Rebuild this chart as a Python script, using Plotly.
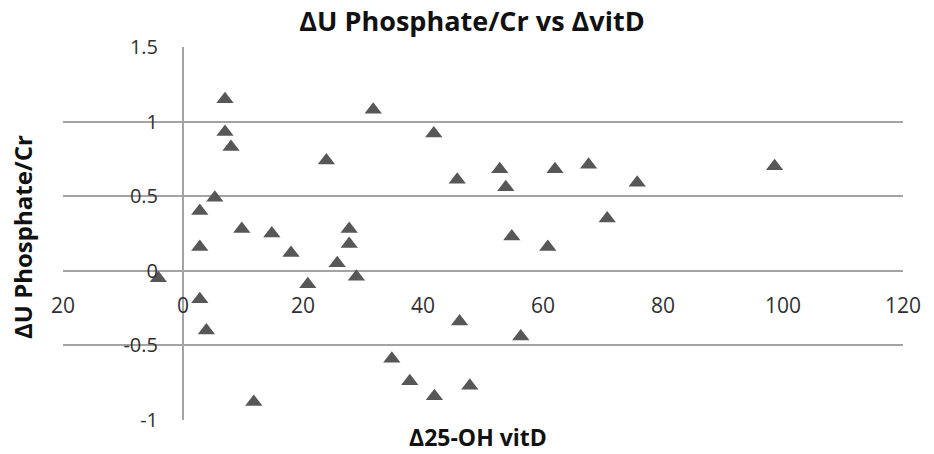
import plotly.graph_objects as go

# Δ25-OH vitD (x) and ΔU Phosphate/Cr (y)
delta_vitd = [-4.1, 2.8, 2.8, 2.8, 3.9, 5.3, 7.0, 7.0, 8.0, 9.8, 11.8, 14.8,
              18.0, 20.8, 23.9, 25.7, 27.7, 27.7, 28.9, 31.7, 34.8, 37.8,
              41.8, 41.9, 45.7, 46.1, 47.8, 52.8, 53.8, 54.8, 56.3, 60.8,
              62.0, 67.6, 70.7, 75.7, 98.6]
delta_uphos = [-0.05, 0.40, 0.16, -0.19, -0.40, 0.49, 1.15, 0.93, 0.83, 0.28,
               -0.88, 0.25, 0.12, -0.09, 0.74, 0.05, 0.28, 0.18, -0.04, 1.08,
               -0.59, -0.74, 0.92, -0.84, 0.61, -0.34, -0.77, 0.68, 0.56, 0.23,
               -0.44, 0.16, 0.68, 0.71, 0.35, 0.59, 0.70]

x_tickvals = [-20, 0, 20, 40, 60, 80, 100, 120]
x_ticktext = ["20", "0", "20", "40", "60", "80", "100", "120"]
y_tickvals = [-1, -0.5, 0, 0.5, 1, 1.5]
y_ticktext = ["-1", "-0.5", "0", "0.5", "1", "1.5"]

title_text = "ΔU Phosphate/Cr vs ΔvitD"
x_title = "Δ25-OH vitD"
y_title = "ΔU Phosphate/Cr"

FONT = "Open Sans"
GRID = "#a3a3a3"
W, H = 934, 454
ML, MR, MT, MB = 63, 31, 47, 34
PW, PH = W - ML - MR, H - MT - MB

fig = go.Figure()
fig.add_trace(go.Scatter(
    x=delta_vitd, y=delta_uphos, mode="markers",
    marker=dict(symbol="triangle-up", size=15, color="#575757",
                line=dict(width=0)),
    showlegend=False,
))

fig.update_layout(
    width=W, height=H, autosize=False,
    margin=dict(l=ML, r=MR, t=MT, b=MB, autoexpand=False),
    paper_bgcolor="white", plot_bgcolor="white",
    font=dict(family=FONT, color="#303030", size=20),
    title=dict(text="<b>" + title_text + "</b>", automargin=False,
               x=472 / W, xanchor="center", y=1 - 22 / H, yanchor="middle",
               font=dict(family=FONT, size=27, color="#111111")),
    xaxis=dict(range=[-20, 120], tickvals=x_tickvals, ticktext=x_ticktext,
               showgrid=False, zeroline=True, zerolinecolor=GRID,
               zerolinewidth=1.5, showline=False, ticks="",
               automargin=False, ticklabelstandoff=-129,
               tickfont=dict(family=FONT, size=21, color="#303030")),
    yaxis=dict(range=[-1, 1.5], tickvals=y_tickvals, ticktext=y_ticktext,
               showgrid=True, gridcolor=GRID, gridwidth=1.5,
               zeroline=False, showline=False, ticks="",
               automargin=False, ticklabelstandoff=-96,
               tickfont=dict(family=FONT, size=20, color="#303030")),
    annotations=[
        dict(text="<b>" + x_title + "</b>", xref="paper", yref="paper",
             x=(478 - ML) / PW, y=(H - MB - 437) / PH,
             xanchor="center", yanchor="middle", showarrow=False,
             font=dict(family=FONT, size=23, color="#111111")),
        dict(text="<b>" + y_title + "</b>", xref="paper", yref="paper",
             x=(22 - ML) / PW, y=(H - MB - 237) / PH, textangle=-90,
             xanchor="center", yanchor="middle", showarrow=False,
             font=dict(family=FONT, size=24, color="#111111")),
    ],
)

fig.write_html("out.html",
               config={"displayModeBar": False},
               post_script="document.body.style.margin='0';"
                           "document.body.style.overflow='hidden';")
